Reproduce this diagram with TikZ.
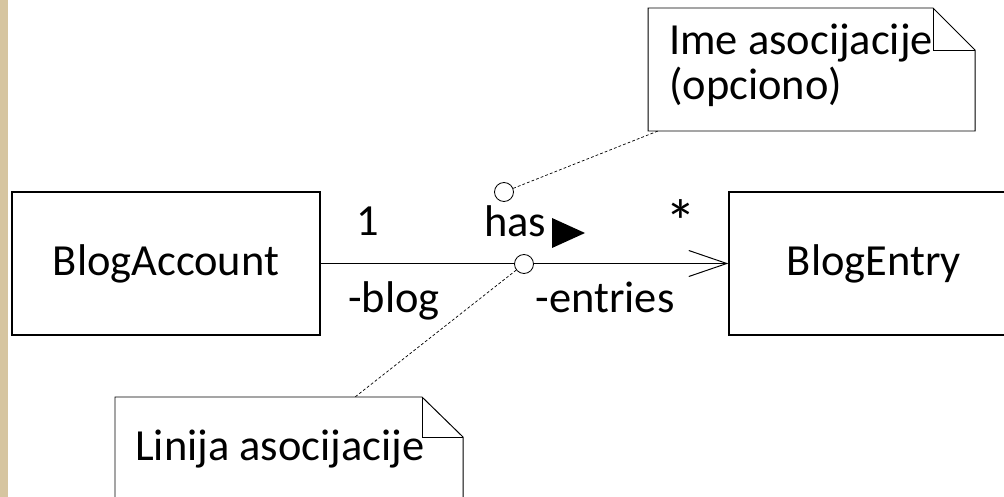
\documentclass[tikz,border=0pt]{standalone}
\usepackage{fontspec}
\setmainfont{Carlito}
\usetikzlibrary{arrows.meta,calc,positioning}
\definecolor{strip}{RGB}{214,197,160}
\tikzset{
	cls/.style={draw, line width=0.9pt, minimum width=7.7cm, minimum height=3.575cm, inner sep=0},
	lbl/.style={anchor=base, inner sep=0},
	pin/.style={circle, draw, fill=white, line width=0.6pt, minimum size=0.475cm, inner sep=0},
	assoc/.style={-{Straight Barb[length=0.95cm,width=0.65cm,line width=0.7pt]}, line width=0.7pt},
	notetext/.style={anchor=base west, inner sep=0, align=left},
	noteedge/.style={line width=0.7pt, line join=miter},
	notelink/.style={dash pattern=on 2pt off 1.5pt, line width=0.5pt}
}
\begin{document}
\begin{tikzpicture}[x=0.025cm, y=-0.025cm, font=\fontsize{31.6}{32}\selectfont]
	\useasboundingbox (0,0) rectangle (1004,497);
	\clip (0,0) rectangle (1004,497);
	\fill[strip] (0,0) rectangle (8,497);
	
	%%%classes
	\node[cls] (acc) at (166,263.5) {BlogAccount};
	\node[cls, minimum width=7.25cm] (ent) at (874,263.5) {BlogEntry};
	\draw[assoc] (acc) -- (ent);
	
	%%%% ends and name
	\node[lbl] (one) at (368,236) {1};
	\node[lbl] (has) at (515,237) {has};
	\node[lbl, font=\fontsize{44}{44}\selectfont] (many) at (681,244) {*};
	\node[lbl] (blog) at (394,313) {-blog};
	\node[lbl] (entries) at (605,313) {-entries};
	\fill (552,218) -- (585,233) -- (552,248) -- cycle;
	
	%%%% notes
	\coordinate (n1) at (658,131);
	\coordinate (n2) at (355,397);
	\draw[noteedge] (648,8) -- (933,8) -- (975,50) -- (975,131) -- (648,131) -- cycle;
	\draw[noteedge] (933,8) -- (933,50) -- (975,50);
	\node[notetext] (ime) at (669,100) {Ime asocijacije\\(opciono)};
	
	\draw[noteedge] (115,510) -- (115,397) -- (422,397) -- (463,437) -- (463,510);
	\draw[noteedge] (422,397) -- (422,437) -- (463,437);
	\node[notetext] (linija) at (135,460) {Linija asocijacije};
	
	\node[pin] (c1) at (504,192) {};
	\node[pin] (c2) at (524,264) {};
	\draw[notelink] (c1) -- (n1);
	\draw[notelink] (c2) -- (n2);
	
\end{tikzpicture}
\end{document}
